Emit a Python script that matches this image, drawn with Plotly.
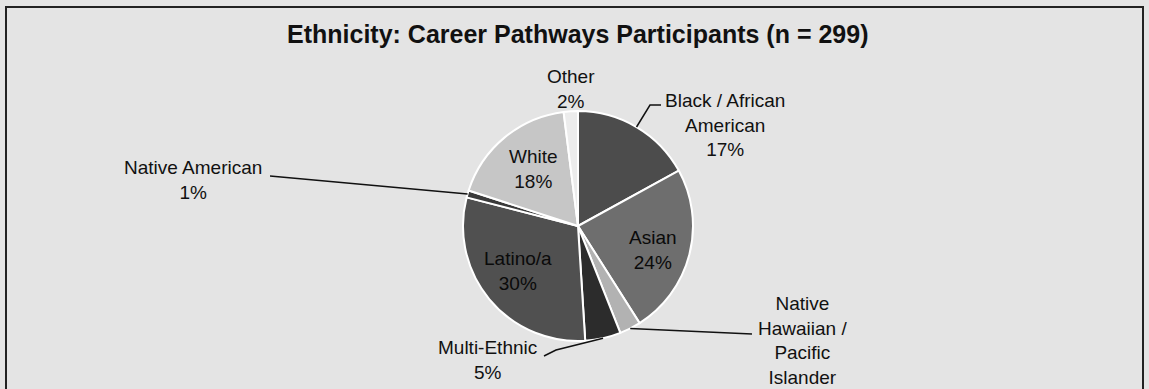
import math
import plotly.graph_objects as go

# ---- data ----
categories = ["Black / African American", "Asian", "Native Hawaiian / Pacific Islander",
              "Multi-Ethnic", "Latino/a", "Native American", "White", "Other"]
percents = [17, 24, 3, 5, 30, 1, 18, 2]
slice_colors = ["#4c4c4c", "#6e6e6e", "#b2b2b2", "#2c2c2c", "#505050", "#3a3a3a", "#c6c6c6", "#ececec"]

W, H = 1149, 389
CX, CY, R = 578, 226, 115  # pie centre / radius in pixels


def px(x):
    return x / W


def py(y):
    return 1 - y / H


def edge(i, r=R):
    """point on the pie rim at the middle of slice i (clockwise from 12 o'clock)"""
    tot = sum(percents)
    start = sum(percents[:i]) / tot * 360
    mid = math.radians(start + percents[i] / tot * 360 / 2)
    return CX + r * math.sin(mid), CY - r * math.cos(mid)


fig = go.Figure()
fig.add_trace(go.Pie(
    labels=categories, values=percents, sort=False, direction="clockwise", rotation=0,
    marker=dict(colors=slice_colors, line=dict(color="white", width=2)),
    textinfo="none", hoverinfo="label+percent", showlegend=False,
    domain=dict(x=[px(CX - R), px(CX + R)], y=[py(CY + R), py(CY - R)]),
))

FONT = dict(family="Liberation Sans, Arial, sans-serif", size=19, color="#111111")


def label(text, x, y, color="#111111"):
    fig.add_annotation(text=text, x=px(x), y=py(y), xref="paper", yref="paper",
                       showarrow=False, xanchor="center", yanchor="middle",
                       font=dict(FONT, color=color), align="center")


def leader(points):
    path = "M " + " L ".join(f"{px(x)},{py(y)}" for x, y in points)
    fig.add_shape(type="path", path=path, xref="paper", yref="paper",
                  line=dict(color="#111111", width=1.5))


# title
fig.add_annotation(text="<b>Ethnicity: Career Pathways Participants (n = 299)</b>",
                   x=px(577), y=py(34), xref="paper", yref="paper", showarrow=False,
                   xanchor="center", yanchor="middle",
                   font=dict(family="Liberation Sans, Arial, sans-serif", size=25, color="#111111"))

# outside labels
label(f"Other<br>{percents[7]}%", 571, 89)
label(f"Black / African<br>American<br>{percents[0]}%", 725, 125)
x0, y0 = edge(0)
leader([(x0, y0), (650, 105), (661, 105)])

label(f"Native American<br>{percents[5]}%", 193, 180)
x5, y5 = edge(5)
leader([(270, 176), (x5, y5)])

label("Native<br>Hawaiian /<br>Pacific<br>Islander", 802, 340)
x2, y2 = edge(2)
leader([(x2, y2), (752, 334)])

label(f"Multi-Ethnic<br>{percents[3]}%", 487, 360)
x3, y3 = edge(3)
leader([(544, 356), (556, 350), (x3, y3)])

# inside labels
label(f"White<br>{percents[6]}%", 533, 169)
label(f"Asian<br>{percents[1]}%", 653, 250, color="#0a0a0a")
label(f"Latino/a<br>{percents[4]}%", 518, 271, color="#0a0a0a")

# outer frame
fig.add_shape(type="rect", xref="paper", yref="paper",
              x0=px(6), y0=py(400), x1=px(1143), y1=py(7),
              line=dict(color="#222222", width=2), fillcolor="rgba(0,0,0,0)", layer="below")

fig.update_layout(width=W, height=H, margin=dict(l=0, r=0, t=0, b=0),
                  paper_bgcolor="#e4e4e4", plot_bgcolor="#e4e4e4")

fig.write_html("out.html", config={"displayModeBar": False},
               post_script="document.body.style.margin='0';")
